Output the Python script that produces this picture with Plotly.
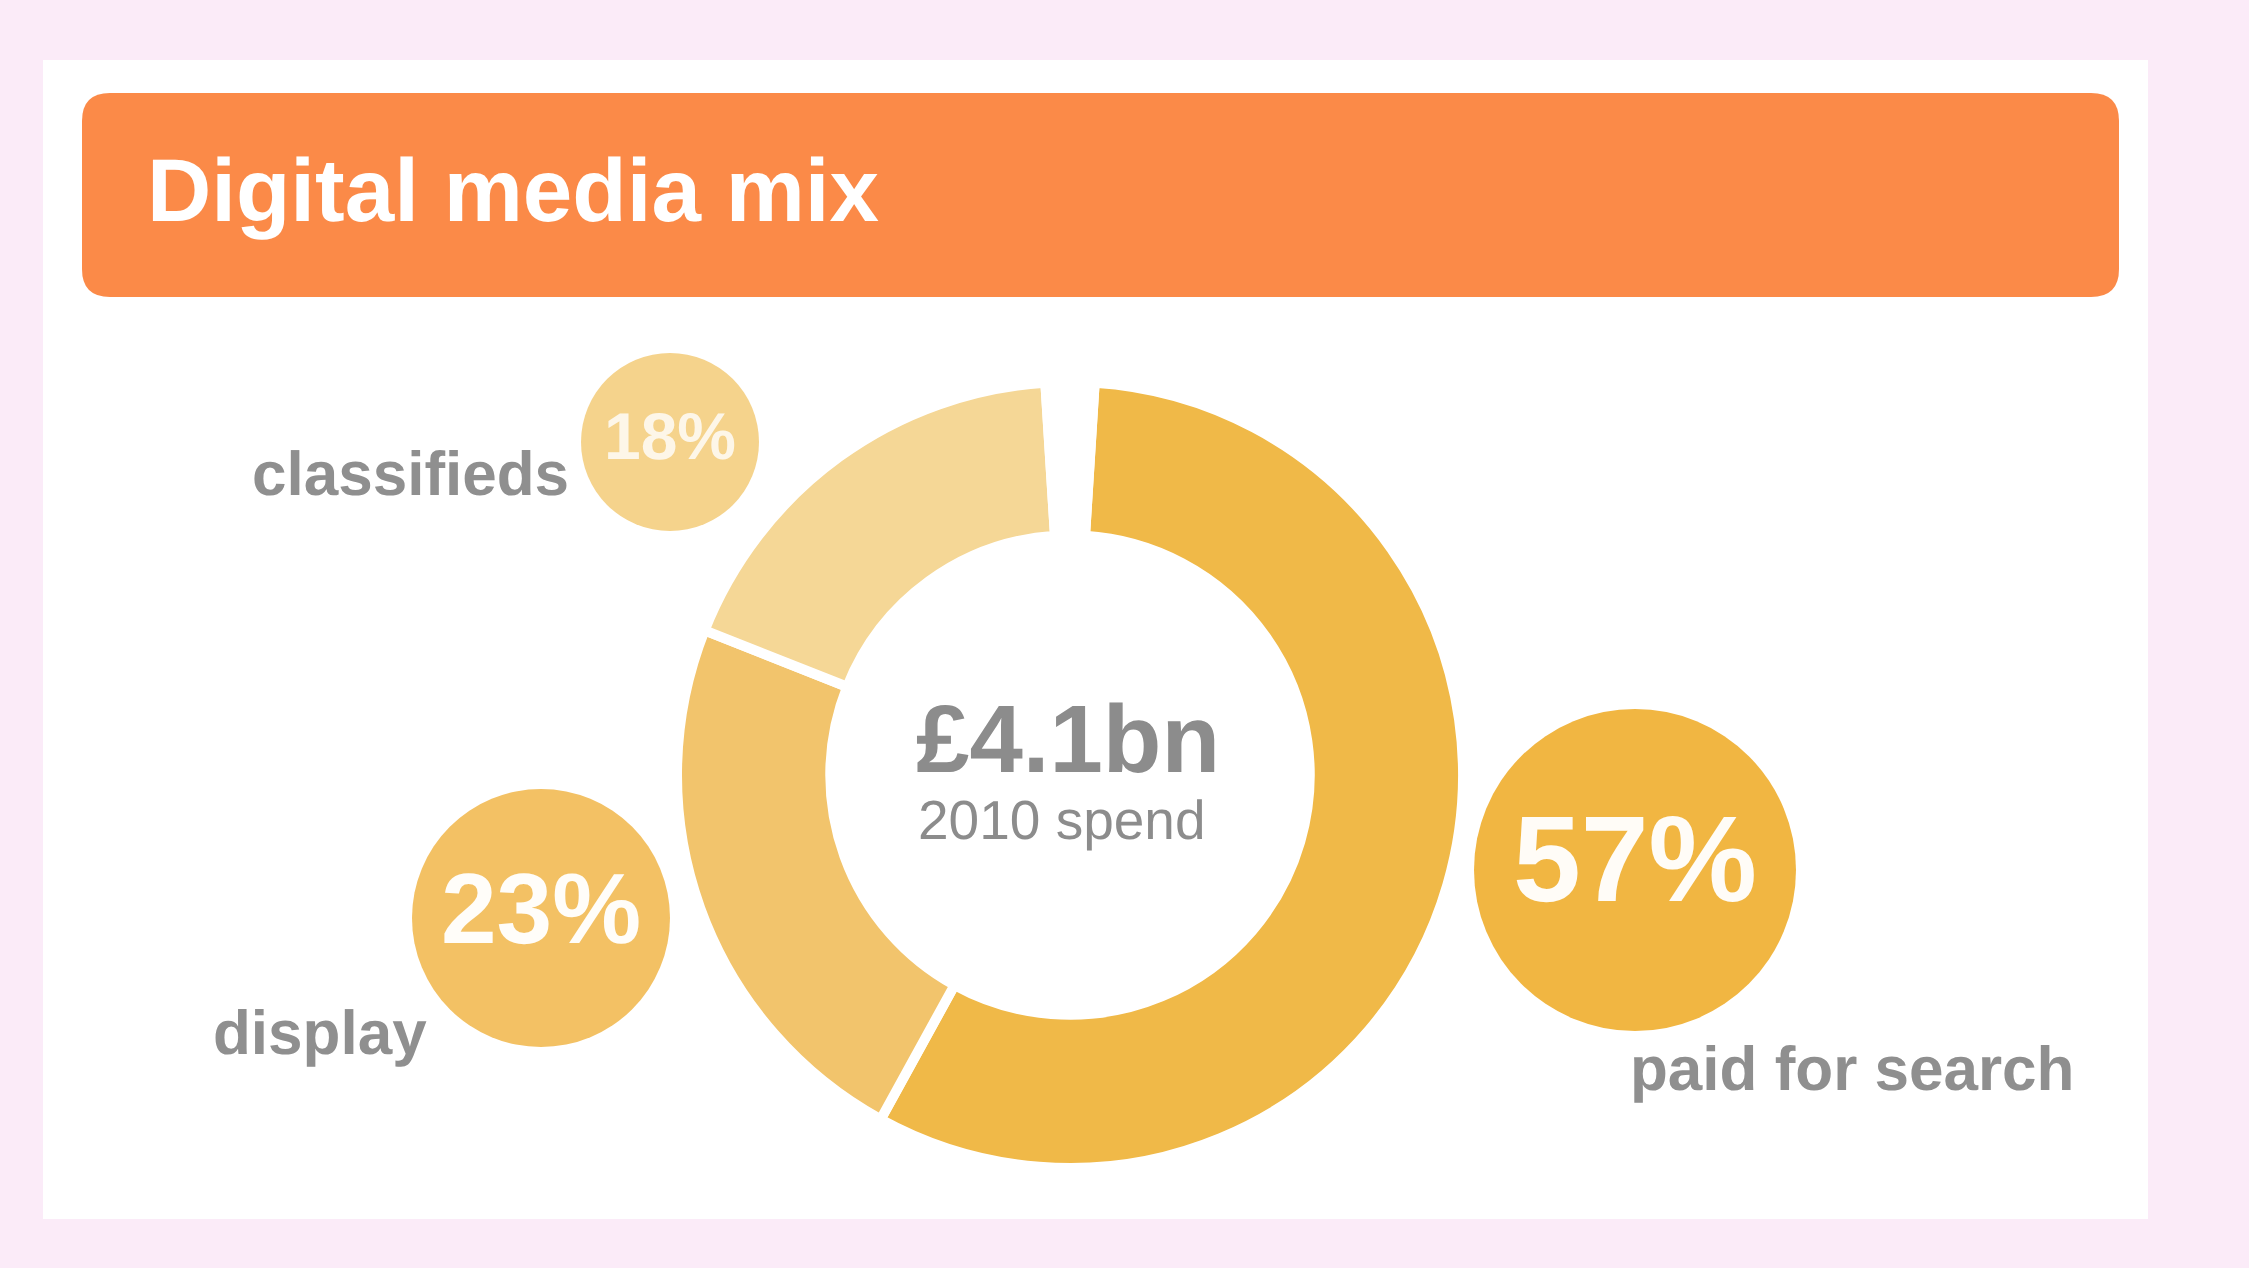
import plotly.graph_objects as go

W, H = 2249, 1268

# ---- data ----
categories = ["paid for search", "display", "classifieds"]
shares = [57, 23, 18]  # percent of 2010 digital spend
total_label = "£4.1bn"
total_sub = "2010 spend"
title_text = "Digital media mix"

# ---- styles ----
FONT = "Liberation Sans, Arial, sans-serif"
slice_colors = ["#F0B948", "#F2C46C", "#F5D796"]
bubble_colors = ["#F1B642", "#F3C164", "#F5D38C"]
label_gray = "#8F8F8F"
remainder = 100 - sum(shares)

fig = go.Figure()

# donut
cx, cy, R = 1070, 775, 393
fig.add_trace(go.Pie(
    labels=categories + [""],
    values=shares + [remainder],
    sort=False,
    direction="clockwise",
    rotation=remainder * 3.6 / 2,
    hole=0.61,
    marker=dict(colors=slice_colors + ["rgba(255,255,255,0)"],
                line=dict(color="#FFFFFF", width=10)),
    textinfo="none",
    hoverinfo="label+value",
    showlegend=False,
    domain=dict(x=[(cx - R) / W, (cx + R) / W],
                y=[(H - cy - R) / H, (H - cy + R) / H]),
))

# bubbles (layout positions in pixel space)
bubble_pos = [(1635, 870), (541, 918), (670, 442)]
bubble_diam = [322, 258, 178]
bubble_font = [122, 100, 66]
for i, cat in enumerate(categories):
    fig.add_trace(go.Scatter(
        x=[bubble_pos[i][0]], y=[bubble_pos[i][1]],
        mode="markers+text",
        marker=dict(size=bubble_diam[i], color=bubble_colors[i],
                    line=dict(width=0)),
        text=[f"<b>{shares[i]}%</b>"],
        textposition="middle center",
        textfont=dict(family=FONT, size=bubble_font[i],
                      color="rgba(255,255,255,0.96)" if i < 2 else "rgba(255,255,255,0.8)"),
        hoverinfo="skip", showlegend=False, cliponaxis=False,
        xaxis="x", yaxis="y",
    ))

# category labels
label_pos = [(1852, 1068), (320, 1032), (410, 473)]
annotations = []
for i, cat in enumerate(categories):
    annotations.append(dict(
        x=label_pos[i][0], y=label_pos[i][1], xref="x", yref="y",
        text=f"<b>{cat}</b>", showarrow=False, xanchor="center", yanchor="middle",
        font=dict(family=FONT, size=62, color=label_gray),
    ))

# centre text
annotations.append(dict(x=1068, y=738, xref="x", yref="y", text=f"<b>{total_label}</b>",
                        showarrow=False, font=dict(family=FONT, size=96, color="#8C8C8C")))
annotations.append(dict(x=1062, y=820, xref="x", yref="y", text=total_sub,
                        showarrow=False, font=dict(family=FONT, size=55, color="#8C8C8C")))
# title
annotations.append(dict(x=145, y=190, xref="x", yref="y", text=f"<b>{title_text}</b>",
                        xanchor="left", yanchor="middle", showarrow=False,
                        font=dict(family=FONT, size=89, color="#FFFFFF")))

def rounded_rect(x0, y0, x1, y1, r):
    return (f"M{x0+r},{y0} L{x1-r},{y0} Q{x1},{y0} {x1},{y0+r} "
            f"L{x1},{y1-r} Q{x1},{y1} {x1-r},{y1} L{x0+r},{y1} "
            f"Q{x0},{y1} {x0},{y1-r} L{x0},{y0+r} Q{x0},{y0} {x0+r},{y0} Z")

shapes = [
    dict(type="rect", xref="x", yref="y", x0=43, y0=60, x1=2148, y1=1219,
         fillcolor="#FFFFFF", line=dict(width=0), layer="below"),
    dict(type="path", xref="x", yref="y", path=rounded_rect(82, 93, 2119, 297, 28),
         fillcolor="#FB8A48", line=dict(width=0), layer="below"),
]

fig.update_layout(
    width=W, height=H,
    margin=dict(l=0, r=0, t=0, b=0),
    paper_bgcolor="#FBEBF8",
    plot_bgcolor="rgba(0,0,0,0)",
    xaxis=dict(range=[0, W], visible=False, fixedrange=True),
    yaxis=dict(range=[H, 0], visible=False, fixedrange=True),
    shapes=shapes,
    annotations=annotations,
    showlegend=False,
)

post = """
document.body.style.margin = '0';
document.body.style.background = '#FBEBF8';
document.querySelectorAll('svg text').forEach(function(t){
  t.style.textRendering = 'geometricPrecision';
  t.style.fontKerning = 'normal';
});
"""
fig.write_html("out.html", post_script=post, config={"displayModeBar": False})
